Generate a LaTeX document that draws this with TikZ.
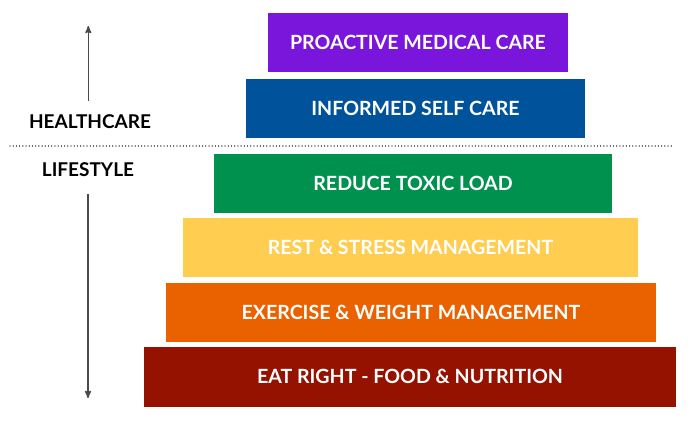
\documentclass[tikz,border=0pt]{standalone}
\usepackage{fontspec}
\setmainfont{Lato}
\usepackage{tikz}
\usetikzlibrary{arrows,positioning}
\definecolor{pmcpurple}{HTML}{7A16DB}
\definecolor{iscblue}{HTML}{00539A}
\definecolor{rtlgreen}{HTML}{00914F}
\definecolor{rsmyellow}{HTML}{FFCD50}
\definecolor{ewmorange}{HTML}{EA6100}
\definecolor{erfred}{HTML}{961200}
\definecolor{axisgray}{HTML}{4A4A4A}

\begin{document}
\begin{tikzpicture}[x=1pt,y=-1pt,>=stealth',semithick,
  tier/.style={rectangle,minimum height=59.5pt,inner sep=0pt,text=white,
    font=\fontsize{19.6}{24}\selectfont\bfseries},
  side/.style={font=\fontsize{19}{22}\selectfont\bfseries,inner sep=1pt}]
\useasboundingbox (0,0) rectangle (700,424);

\node[tier,fill=pmcpurple,minimum width=300pt](pmc) at (418,42.5){PROACTIVE MEDICAL CARE};
\node[tier,fill=iscblue,minimum width=339pt](isc) at (415.5,108.5){INFORMED SELF CARE};
\node[tier,fill=rtlgreen,minimum width=398pt](rtl) at (413,183.5){REDUCE TOXIC LOAD};
\node[tier,fill=rsmyellow,minimum width=455pt](rsm) at (410.5,247.7){REST \& STRESS MANAGEMENT};
\node[tier,fill=ewmorange,minimum width=490pt](ewm) at (411,312.7){EXERCISE \& WEIGHT MANAGEMENT};
\node[tier,fill=erfred,minimum width=532pt](erf) at (410,376.8){EAT RIGHT - FOOD \& NUTRITION};

% healthcare / lifestyle split
\coordinate (splitl) at (10,146);
\coordinate (splitr) at (672,146);
\draw[-,axisgray,line width=1.3pt,dash pattern=on 0.01pt off 3.2pt,line cap=round](splitl)--(splitr);

\node[side](hc) at (90,122){HEALTHCARE};
\node[side](ls) at (88,169.5){LIFESTYLE};
\coordinate (hctop) at (88.3,26);
\coordinate (lsbot) at (88,398);
\draw[->,axisgray,line width=1.5pt,shorten <=13pt](hc.north -| hctop)--(hctop);
\draw[->,axisgray,line width=1.5pt,shorten <=16pt](ls.south -| lsbot)--(lsbot);
\end{tikzpicture}
\end{document}
